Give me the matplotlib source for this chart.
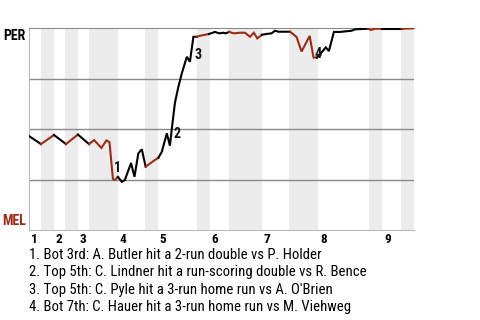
import numpy as np
import matplotlib
matplotlib.use("Agg")
import matplotlib.pyplot as plt
from matplotlib import font_manager as fm
from matplotlib.transforms import blended_transform_factory

# pick a narrow font if one is installed
names = {f.name for f in fm.fontManager.ttflist}
font = 'Roboto'
for cand in ['Roboto Condensed', 'Liberation Sans Narrow']:
    if cand in names:
        font = cand
        break
plt.rcParams['font.family'] = [font, 'DejaVu Sans']

RED = '#9e2a15'

# game progress (% of game) and PER win probability (%)
progress = [0, 3.1, 6.5, 9.6, 12.7, 15.6, 16.9, 18.8, 20.1, 20.9, 21.8, 22.3, 23.1,
            24.1, 24.9, 26.5, 27.4, 28.4, 29.3, 30.3, 32.7, 33.6, 34.5, 35.8, 36.6,
            37.3, 37.9, 38.8, 39.7, 41.0, 41.8, 42.7, 43.6, 44.4, 46.8, 48.3, 49.4,
            50.5, 51.1, 52.0, 53.2, 54.8, 56.1, 57.4, 58.4, 59.3, 60.5, 61.7, 63.0,
            63.9, 64.8, 67.8, 69.5, 70.8, 72.9, 73.9, 74.8, 75.4, 77.1, 77.9, 79.2,
            80.8, 83.8, 84.7, 88.1, 88.8, 89.9, 91.7, 96.8, 100]
win_prob = [46.6, 42.6, 47.1, 42.6, 47.3, 42.6, 44.6, 40.7, 44.4, 43.6, 25.3, 24.8, 26.3,
            23.9, 24.8, 33.2, 26.4, 38.0, 40.0, 31.4, 34.7, 35.8, 38.8, 47.9, 41.8,
            53.5, 63.0, 71.0, 77.7, 85.9, 83.4, 95.8, 95.8, 96.3, 97.2, 98.2, 97.5,
            97.8, 97.5, 98.2, 97.5, 97.8, 97.8, 95.8, 97.8, 95.0, 96.8, 97.2, 97.5,
            98.8, 98.3, 98.3, 95.7, 88.5, 96.2, 85.5, 85.5, 86.8, 90.5, 88.7, 98.2,
            98.2, 98.8, 99.5, 99.8, 99.2, 99.8, 99.8, 99.8, 100]

# start of each inning and the bottom halves (shaded)
inning_starts = [0, 6.5, 12.7, 23.1, 33.5, 47.0, 60.5, 75.1, 91.7]
inning_labels = ['1', '2', '3', '4', '5', '6', '7', '8', '9']
bottom_halves = [(3.1, 6.5), (9.4, 12.7), (15.6, 23.1), (30.1, 33.5), (43.6, 47.0),
                 (51.9, 60.5), (67.5, 75.1), (88.3, 91.7), (96.6, 100)]

# key events: label, position of the marker text
event_ids = ['1', '2', '3', '4']
event_x = [22.9, 38.4, 44.0, 75.1]
event_y = [30.7, 47.6, 86.8, 87.5]
notes = [
    "1. Bot 3rd: A. Butler hit a 2-run double vs P. Holder",
    "2. Top 5th: C. Lindner hit a run-scoring double vs R. Bence",
    "3. Top 5th: C. Pyle hit a 3-run home run vs A. O'Brien",
    "4. Bot 7th: C. Hauer hit a 3-run home run vs M. Viehweg",
]

fig = plt.figure(figsize=(4.8, 3.2), dpi=100)
ax = fig.add_axes([29/480, 90/320, 385/480, 201.7/320])

for a, b in bottom_halves:
    ax.axvspan(a, b, color='#ececec', lw=0, zorder=0)
for g in [25, 50, 75]:
    ax.axhline(g, color='#8a8a8a', lw=1, zorder=1)


def in_bottom(x):
    return any(a <= x < b for a, b in bottom_halves)


# draw line, coloured by which team is batting
x = np.array(progress)
y = np.array(win_prob)
cols = [RED if in_bottom((x[i] + x[i+1]) / 2) else 'black' for i in range(len(x) - 1)]
start = 0
for i in range(1, len(cols) + 1):
    if i == len(cols) or cols[i] != cols[start]:
        ax.plot(x[start:i+1], y[start:i+1], color=cols[start], lw=1.5,
                solid_joinstyle='miter', zorder=3)
        start = i

for lab, ex, ey in zip(event_ids, event_x, event_y):
    ax.text(ex, ey, lab, ha='center', va='center', fontsize=10,
            fontweight='bold', color='#111111', zorder=4)

ax.set_xlim(0, 100)
ax.set_ylim(0, 100)
ax.set_xticks([])
ax.set_yticks([])
ax.spines['right'].set_visible(False)
ax.spines['top'].set_color('#8a8a8a')
ax.spines['left'].set_color('#bbbbbb')
ax.spines['bottom'].set_color('#bbbbbb')

fig.text(26/480, 1 - 40/320, 'PER', ha='right', va='baseline', fontsize=10,
         fontweight='bold', color='black')
fig.text(26.5/480, 1 - 225/320, 'MEL', ha='right', va='baseline', fontsize=10,
         fontweight='bold', color=RED)

tr = blended_transform_factory(ax.transData, fig.transFigure)
for s, lab in zip(inning_starts, inning_labels):
    ax.text(s + 0.5, 1 - 242.7/320, lab, transform=tr, ha='left', va='baseline',
            fontsize=9.5, fontweight='bold', color='black')

for i, n in enumerate(notes):
    fig.text(29/480, 1 - (259 + 17.3*i)/320, n, ha='left', va='baseline',
             fontsize=10.6, color='black')

fig.savefig('out.png', dpi=100)
